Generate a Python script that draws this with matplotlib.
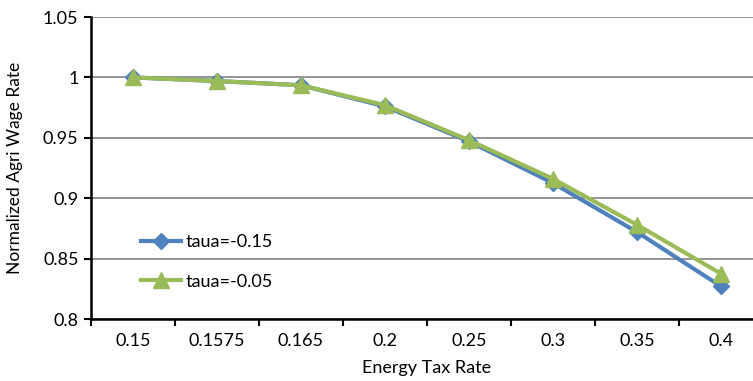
import matplotlib.pyplot as plt
import numpy as np

plt.rcParams['font.family'] = ['Lato', 'DejaVu Sans']

rates = ['0.15', '0.1575', '0.165', '0.2', '0.25', '0.3', '0.35', '0.4']
wage_015 = [1.0, 0.997, 0.9935, 0.976, 0.947, 0.9125, 0.872, 0.827]
wage_005 = [1.0, 0.997, 0.9935, 0.977, 0.948, 0.916, 0.878, 0.8375]

fig = plt.figure(figsize=(7.53, 3.81), dpi=100)
ax = fig.add_axes([91 / 753, 62 / 381, 672 / 753, 302 / 381])

x = np.arange(len(rates))
ax.plot(x, wage_015, color='#4F81BD', lw=3, marker='D', ms=8,
        label='taua=-0.15', zorder=3)
ax.plot(x, wage_005, color='#9BBB59', lw=3, marker='^', ms=11,
        label='taua=-0.05', zorder=4)

ax.set_xlim(-0.5, len(rates) - 0.5)
ax.set_ylim(0.8, 1.05)
ax.set_yticks([0.8, 0.85, 0.9, 0.95, 1.0, 1.05])
ax.set_yticklabels(['0.8', '0.85', '0.9', '0.95', '1', '1.05'])
ax.set_xticks(x)
ax.set_xticklabels(rates)
ax.set_xticks(np.arange(len(rates) + 1) - 0.5, minor=True)
ax.tick_params(axis='x', which='major', length=0, pad=10, labelsize=13)
ax.tick_params(axis='x', which='minor', length=5, width=1.5, direction='out')
ax.tick_params(axis='y', length=5, width=1.5, direction='out', pad=4, labelsize=13)

ax.yaxis.grid(True, color='#8c8c8c', lw=1.3)
ax.set_axisbelow(True)
for s in ['top', 'right']:
    ax.spines[s].set_visible(False)
ax.spines['left'].set_linewidth(1.8)
ax.spines['bottom'].set_linewidth(1.8)

ax.set_xlabel('Energy Tax Rate', fontsize=13, labelpad=8)
ax.set_ylabel('Normalized Agri Wage Rate', fontsize=12.5, labelpad=14)

ax.legend(loc='upper left', bbox_to_anchor=(0.05, 0.335), frameon=False,
          fontsize=13, handlelength=2.2, labelspacing=1.3, handletextpad=0.3)

fig.savefig('out.png', dpi=100)
